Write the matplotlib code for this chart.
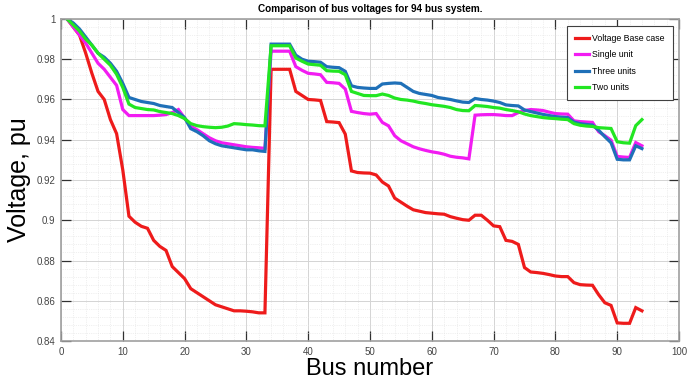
import numpy as np
from matplotlib import pyplot as plt
from matplotlib.ticker import MultipleLocator, FormatStrFormatter, AutoMinorLocator

# Bus voltage profiles (pu) for the 94 bus system
bus = np.arange(1, 95)

v_base = [1.000, 0.996, 0.992, 0.983, 0.973, 0.964, 0.960, 0.950, 0.943, 0.925,
          0.902, 0.899, 0.897, 0.896, 0.890, 0.887, 0.885, 0.877, 0.874, 0.871,
          0.866, 0.864, 0.862, 0.860, 0.858, 0.857, 0.856, 0.855, 0.855, 0.8548,
          0.8545, 0.854, 0.854, 0.975, 0.975, 0.975, 0.975, 0.964, 0.962, 0.960,
          0.9598, 0.9595, 0.949, 0.9488, 0.9485, 0.9428, 0.9245, 0.9237, 0.9235, 0.9234,
          0.9225, 0.919, 0.917, 0.911, 0.909, 0.907, 0.9052, 0.9045, 0.9038, 0.9035,
          0.9032, 0.903, 0.9018, 0.901, 0.9003, 0.900, 0.9025, 0.9025, 0.900, 0.8972,
          0.8968, 0.890, 0.8895, 0.888, 0.8765, 0.8743, 0.874, 0.8736, 0.873, 0.8723,
          0.872, 0.872, 0.869, 0.868, 0.8678, 0.8677, 0.863, 0.859, 0.8577, 0.849,
          0.8488, 0.8488, 0.8566, 0.855]

v_single = [1.000, 0.996, 0.992, 0.988, 0.983, 0.978, 0.975, 0.971, 0.967, 0.955,
            0.952, 0.952, 0.952, 0.952, 0.952, 0.9522, 0.9525, 0.9535, 0.955, 0.9508,
            0.9467, 0.945, 0.943, 0.941, 0.9395, 0.9385, 0.938, 0.9375, 0.937, 0.9365,
            0.9362, 0.936, 0.9357, 0.984, 0.984, 0.984, 0.984, 0.9763, 0.9745, 0.973,
            0.9727, 0.9723, 0.9685, 0.9683, 0.968, 0.9652, 0.9541, 0.9535, 0.953, 0.9527,
            0.953, 0.9486, 0.9469, 0.942, 0.9395, 0.938, 0.9365, 0.9355, 0.9347, 0.934,
            0.9335, 0.9328, 0.9318, 0.9313, 0.931, 0.9305, 0.9522, 0.9524, 0.9525, 0.9525,
            0.9523, 0.952, 0.952, 0.9535, 0.9545, 0.955, 0.9548, 0.9545, 0.9537, 0.953,
            0.9528, 0.9527, 0.9494, 0.949, 0.9488, 0.9486, 0.944, 0.942, 0.9398, 0.9317,
            0.9314, 0.9312, 0.9386, 0.937]

v_three = [1.000, 0.998, 0.995, 0.991, 0.987, 0.983, 0.981, 0.978, 0.974, 0.968,
           0.961, 0.960, 0.959, 0.9585, 0.958, 0.957, 0.9565, 0.956, 0.9535, 0.951,
           0.9455, 0.944, 0.942, 0.9395, 0.938, 0.937, 0.9365, 0.936, 0.9355, 0.935,
           0.935, 0.9345, 0.9342, 0.9875, 0.9875, 0.9875, 0.9875, 0.982, 0.980, 0.979,
           0.9788, 0.9785, 0.9763, 0.976, 0.9758, 0.974, 0.9668, 0.966, 0.9657, 0.9655,
           0.9655, 0.9677, 0.968, 0.9682, 0.968, 0.966, 0.964, 0.963, 0.9625, 0.962,
           0.961, 0.9605, 0.960, 0.9593, 0.9587, 0.9585, 0.9605, 0.960, 0.9597, 0.9592,
           0.9585, 0.9573, 0.957, 0.9568, 0.9548, 0.954, 0.9533, 0.9526, 0.952, 0.9515,
           0.9512, 0.951, 0.9488, 0.948, 0.9476, 0.9473, 0.9447, 0.9415, 0.9385, 0.9303,
           0.930, 0.930, 0.937, 0.9356]

v_two = [1.000, 0.997, 0.994, 0.990, 0.987, 0.983, 0.980, 0.977, 0.9725, 0.966,
         0.9577, 0.956, 0.9555, 0.955, 0.9548, 0.954, 0.9535, 0.953, 0.952, 0.9505,
         0.948, 0.947, 0.9465, 0.9462, 0.946, 0.9462, 0.9468, 0.948, 0.9478, 0.9475,
         0.9473, 0.947, 0.9469, 0.9867, 0.9867, 0.9867, 0.9867, 0.9806, 0.979, 0.9776,
         0.9773, 0.977, 0.9743, 0.9741, 0.974, 0.9723, 0.964, 0.963, 0.962, 0.9619,
         0.9619, 0.9627, 0.962, 0.9607, 0.960, 0.9597, 0.9592, 0.9585, 0.958, 0.9574,
         0.957, 0.9566, 0.956, 0.955, 0.9545, 0.9544, 0.957, 0.9568, 0.9565, 0.956,
         0.9557, 0.955, 0.9545, 0.9539, 0.9528, 0.952, 0.9515, 0.951, 0.9507, 0.9505,
         0.9502, 0.950, 0.948, 0.9472, 0.9468, 0.9466, 0.946, 0.9458, 0.9456, 0.939,
         0.9385, 0.9383, 0.947, 0.950]

series = [
    (v_base, 'Voltage Base case', '#ee1b1b'),
    (v_single, 'Single unit', '#f21cf2'),
    (v_three, 'Three units', '#1f70b8'),
    (v_two, 'Two units', '#22e622'),
]

plt.rcParams['font.family'] = ['Liberation Sans', 'DejaVu Sans']

fig = plt.figure(figsize=(6.89, 3.88), dpi=100)
ax = fig.add_axes([0.0885, 0.1211, 0.897, 0.830])

for v, name, color in series:
    ax.plot(bus, v, color=color, linewidth=2.3, label=name, solid_joinstyle='miter')

ax.set_xlim(0, 100)
ax.set_ylim(0.84, 1.0)
ax.xaxis.set_major_locator(MultipleLocator(10))
ax.yaxis.set_major_locator(MultipleLocator(0.02))
ax.xaxis.set_minor_locator(AutoMinorLocator(5))
ax.yaxis.set_minor_locator(AutoMinorLocator(5))
ax.yaxis.set_major_formatter(FormatStrFormatter('%g'))

ax.grid(which='major', color='#d4d4d4', linewidth=0.7)
ax.grid(which='minor', color='#e2e2e2', linewidth=0.5, linestyle=':')
ax.set_axisbelow(True)

ax.tick_params(which='major', direction='in', length=7, width=0.9, color='#303030',
               top=True, right=True, labelsize=7, labelcolor='#454545', pad=4)
ax.tick_params(which='minor', length=0)
for sp in ax.spines.values():
    sp.set_color('#a0a0a0')
    sp.set_linewidth(1.2)

ax.set_title('Comparison of bus voltages for 94 bus system.', fontsize=7.2,
             fontweight='bold', pad=5)
ax.set_xlabel('Bus number', fontsize=17, labelpad=1)
ax.set_ylabel('Voltage, pu', fontsize=18, labelpad=4)

leg = ax.legend(loc='upper right', bbox_to_anchor=(0.99, 0.978), borderaxespad=0,
                fontsize=6.3, labelspacing=0.85, handlelength=1.7, handletextpad=0.35,
                borderpad=0.9, fancybox=False, framealpha=1, edgecolor='#404040')
leg.get_frame().set_linewidth(0.8)

fig.savefig('out.png', dpi=100)
